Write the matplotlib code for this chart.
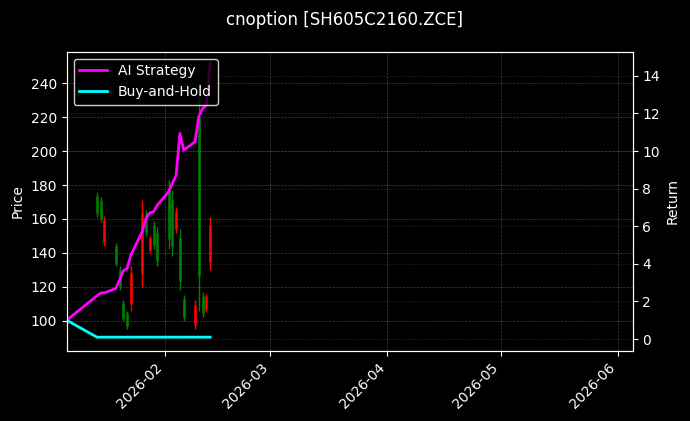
import numpy as np
import pandas as pd
import matplotlib
matplotlib.use("Agg")
import matplotlib.pyplot as plt
import matplotlib.dates as mdates

plt.style.use("dark_background")

# candle data
candle_dates = pd.to_datetime([
    "2026-01-14", "2026-01-15", "2026-01-16", "2026-01-19", "2026-01-20", "2026-01-21",
    "2026-01-22", "2026-01-23", "2026-01-26", "2026-01-27", "2026-01-28", "2026-01-29",
    "2026-01-30", "2026-02-02", "2026-02-03", "2026-02-04", "2026-02-05", "2026-02-06",
    "2026-02-09", "2026-02-10", "2026-02-11", "2026-02-12", "2026-02-13"])
highs = [176, 173, 162, 146, 132, 112, 106, 132, 171, 165, 150, 159, 155,
         183, 177, 167, 154, 115, 112, 240, 117, 116, 161]
lows = [161, 158, 144, 132, 118, 100, 95, 106, 120, 150, 140, 142, 132,
        142, 138, 152, 118, 100, 95, 106, 102, 105, 130]
up = [True, True, False, True, True, True, True, False, False, True, False, True, True,
      True, True, False, True, True, False, True, True, False, False]

# equity curves
curve_dates = pd.to_datetime(["2026-01-06"]).append(candle_dates)
strategy = [1.0, 2.3, 2.45, 2.46, 2.69, 3.14, 3.63, 3.76, 4.47, 5.71, 6.42, 6.71, 6.77,
            7.12, 7.83, 8.28, 8.72, 10.94, 10.05, 10.49, 11.82, 12.26, 12.44, 14.67]
buy_hold = [1.0] + [0.1] * len(candle_dates)

fig = plt.figure(figsize=(6.9, 4.21), dpi=100)
ax = fig.add_axes([0.0967, 0.167, 0.8203, 0.71])
ax.set_facecolor("black")

for d, h, l, u in zip(candle_dates, highs, lows, up):
    c = "green" if u else "red"
    ax.vlines(d, l, h, color=c, linewidth=1)
    span = h - l
    ax.vlines(d, l + 0.15 * span, h - 0.15 * span, color=c, linewidth=1.8)

ax.set_ylim(82.3, 258.6)
ax.set_yticks(range(100, 241, 20))
ax.set_ylabel("Price")
ax.grid(True, linestyle="--", linewidth=0.5, color="grey", alpha=0.5)

ax2 = ax.twinx()
ax2.plot(curve_dates, strategy, color="#ff00ff", linewidth=2, label="AI Strategy")
ax2.plot(curve_dates, buy_hold, color="#00ffff", linewidth=2, label="Buy-and-Hold")
ax2.set_ylim(-0.62, 15.28)
ax2.set_yticks(range(0, 15, 2))
ax2.set_ylabel("Return")
ax2.grid(True, linestyle=":", linewidth=0.5, color="grey", alpha=0.4)

ax.set_xlim(pd.Timestamp("2026-01-06"), pd.Timestamp("2026-06-05"))
ax.xaxis.set_major_locator(mdates.MonthLocator())
ax.xaxis.set_major_formatter(mdates.DateFormatter("%Y-%m"))
plt.setp(ax.get_xticklabels(), rotation=45, ha="right")

ax2.legend(loc="upper left", facecolor="black", edgecolor="white", framealpha=0.8)
fig.suptitle("cnoption [SH605C2160.ZCE]", y=0.975)

fig.savefig("out.png", dpi=100)
